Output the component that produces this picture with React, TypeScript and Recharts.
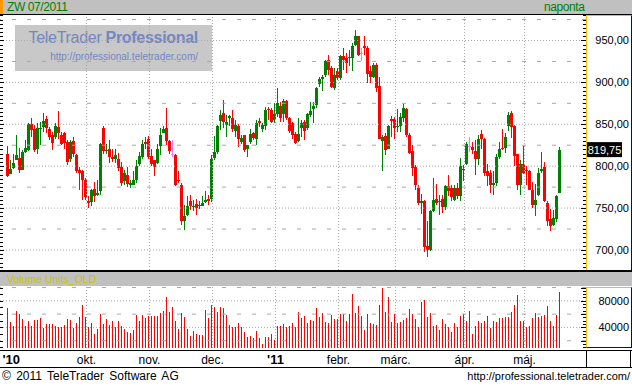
import { Bar, ComposedChart, ReferenceLine, XAxis, YAxis } from 'recharts'

// daily candles, ZW 07/2011
const opens = [
  815, 791, 798, 807, 810, 796, 817, 819, 850, 844, 821, 844, 847, 856, 844, 837, 835, 847, 837, 840,
  829, 809, 830, 813, 796, 794, 783, 759, 757, 773, 766, 770, 845, 818, 820, 811, 809, 809, 799, 782,
  790, 778, 778, 783, 803, 811, 829, 832, 812, 807, 804, 824, 839, 845, 830, 814, 813, 783, 778, 734,
  742, 758, 752, 755, 752, 753, 757, 761, 761, 810, 817, 854, 864, 849, 858, 857, 842, 848, 829, 837,
  820, 829, 840, 832, 854, 844, 848, 868, 867, 855, 862, 872, 862, 878, 857, 851, 838, 830, 846, 853,
  846, 861, 868, 873, 898, 904, 909, 927, 917, 893, 914, 905, 931, 929, 930, 929, 945, 955, 935, 943,
  941, 913, 907, 921, 896, 830, 836, 821, 856, 856, 847, 848, 858, 868, 837, 818, 799, 774, 756, 759,
  705, 700, 746, 761, 757, 761, 751, 776, 774, 760, 774, 764, 797, 803, 824, 823, 818, 809, 838, 833,
  794, 792, 778, 780, 811, 822, 822, 848, 864, 848, 815, 778, 803, 795, 794, 771, 754, 766, 794, 799,
  756, 737, 730, 737, 768,
]
const highs = [
  824, 807, 815, 837, 822, 819, 831, 851, 858, 849, 852, 853, 863, 860, 847, 841, 851, 866, 841, 841,
  831, 831, 835, 815, 799, 796, 786, 764, 773, 781, 784, 828, 848, 827, 831, 821, 821, 816, 805, 796,
  799, 783, 794, 807, 817, 831, 835, 836, 820, 807, 827, 845, 848, 869, 831, 831, 814, 794, 780, 754,
  764, 766, 760, 761, 758, 764, 770, 766, 813, 836, 849, 867, 879, 861, 861, 867, 855, 850, 837, 837,
  825, 844, 841, 855, 857, 852, 871, 871, 869, 875, 893, 876, 880, 879, 859, 853, 841, 858, 855, 855,
  864, 877, 877, 895, 907, 909, 927, 933, 919, 917, 917, 933, 941, 935, 939, 947, 962, 955, 941, 955,
  943, 919, 923, 923, 907, 837, 839, 849, 860, 859, 868, 863, 874, 869, 839, 825, 801, 778, 767, 760,
  734, 748, 786, 779, 766, 766, 778, 790, 778, 778, 780, 810, 801, 829, 835, 829, 831, 837, 843, 834,
  803, 795, 794, 815, 829, 844, 839, 865, 866, 849, 815, 807, 824, 800, 796, 781, 779, 798, 817, 805,
  758, 749, 748, 766, 823,
]
const lows = [
  787, 791, 797, 807, 792, 795, 816, 818, 835, 817, 815, 825, 841, 839, 831, 819, 833, 833, 825, 821,
  801, 805, 811, 792, 772, 760, 760, 750, 752, 757, 764, 766, 815, 815, 804, 805, 804, 794, 776, 778,
  775, 774, 778, 780, 800, 809, 821, 809, 800, 788, 803, 813, 839, 825, 815, 811, 776, 780, 730, 724,
  741, 748, 747, 742, 749, 752, 756, 754, 757, 807, 815, 843, 846, 835, 848, 841, 835, 823, 827, 817,
  811, 827, 831, 825, 847, 841, 843, 855, 851, 851, 859, 853, 853, 855, 839, 833, 826, 829, 835, 831,
  843, 859, 851, 870, 895, 890, 907, 909, 893, 891, 903, 903, 915, 911, 919, 913, 943, 931, 925, 933,
  899, 899, 905, 888, 833, 794, 813, 820, 835, 833, 841, 841, 853, 835, 815, 788, 771, 754, 743, 698,
  692, 699, 745, 754, 742, 744, 748, 764, 758, 758, 761, 759, 782, 801, 817, 815, 789, 801, 821, 788,
  776, 768, 766, 776, 809, 819, 816, 842, 834, 800, 772, 766, 791, 778, 771, 750, 740, 764, 792, 757,
  729, 723, 729, 733, 768,
]
const closes = [
  788, 797, 804, 813, 795, 817, 822, 850, 843, 819, 846, 846, 854, 845, 835, 828, 848, 839, 827, 828,
  805, 829, 815, 794, 792, 783, 763, 756, 772, 764, 768, 827, 818, 819, 811, 808, 813, 798, 780, 792,
  779, 780, 783, 800, 812, 827, 826, 811, 803, 799, 821, 837, 844, 830, 818, 814, 778, 782, 734, 740,
  753, 752, 753, 750, 754, 756, 760, 759, 808, 817, 848, 861, 853, 853, 860, 844, 849, 833, 834, 819,
  825, 838, 834, 851, 852, 849, 867, 867, 853, 862, 875, 858, 878, 857, 842, 837, 828, 838, 852, 842,
  862, 866, 872, 893, 904, 907, 925, 915, 895, 909, 905, 931, 927, 923, 929, 943, 955, 933, 935, 941,
  910, 907, 921, 893, 833, 835, 819, 848, 854, 845, 848, 859, 869, 837, 816, 798, 778, 756, 758, 704,
  700, 747, 760, 756, 759, 751, 776, 770, 763, 774, 764, 800, 796, 827, 824, 819, 809, 833, 832, 792,
  788, 777, 780, 811, 821, 821, 835, 861, 847, 812, 778, 802, 792, 794, 772, 754, 760, 792, 797, 759,
  734, 729, 738, 765, 819.75,
]
const volumes = [
  69000, 47500, 42600, 64000, 60000, 52600, 42000, 50000, 42000, 51000,
  51000, 54000, 39000, 45000, 45000, 45000, 42000, 41000, 41000, 44000,
  52600, 51500, 39000, 46500, 56000, 73500, 56000, 40000, 46500, 30000,
  37400, 60000, 45000, 52600, 44000, 49000, 41000, 49000, 41500, 37400,
  32500, 31000, 36000, 58500, 50000, 58500, 53500, 56500, 56500, 56500,
  57500, 61000, 65000, 86000, 63500, 70000, 50000, 37400, 61000, 55000,
  37400, 27500, 35000, 30000, 28500, 29000, 66000, 54000, 73500, 70000,
  62500, 70000, 69000, 58500, 43500, 41000, 40000, 46000, 40000, 33500,
  25000, 26500, 24000, 34000, 24000, 15000, 25000, 26000, 30000, 21000,
  42600, 41500, 45000, 41000, 42600, 46000, 41000, 62500, 53500, 57500,
  46000, 51000, 49000, 69000, 55000, 61000, 47500, 46000, 58500, 52600,
  52600, 60000, 60000, 50000, 60000, 90000, 61000, 72500, 57500, 36000,
  60000, 46000, 45000, 43500, 74000, 99000, 62500, 86000, 47500, 60000,
  46000, 47500, 51000, 54000, 67500, 60000, 52600, 40000, 77600, 81000,
  56000, 61000, 42600, 43500, 36000, 52600, 45000, 41000, 33500, 46000,
  40000, 56500, 60000, 50000, 64000, 30000, 42000, 49000, 46000, 50000,
  56500, 39000, 49000, 47500, 54000, 53500, 55000, 56000, 62500, 74000,
  88600, 49000, 49000, 41000, 41500, 54000, 61000, 55000, 57500, 58500,
  72000, 50000, 42000, 59000, 92600,
]

const monthTicks = [1.4, 26.5, 47.5, 68.5, 89.5, 110.5, 129.5, 152.5, 172.5]
const monthLabels = ["'10", 'okt.', 'nov.', 'dec.', "'11", 'febr.', 'márc.', 'ápr.', 'máj.']
const priceLabels = [700, 750, 800, 850, 900, 950]
const priceHalfLines = [725, 775, 825, 875, 925, 975]
const volumeLabels = [40000, 80000]
const volumeHalfLines = [20000, 60000, 100000]

const data = opens.map((o, i) => ({ i, o, h: highs[i], l: lows[i], c: closes[i], v: volumes[i] }))
const lastClose = closes[closes.length - 1]

const W = 632
const PLOT_R = 586
const X_DOMAIN: [number, number] = [-2.333, 193]
const RED = '#ff0000'
const GREEN = '#008000'
const PINK = '#ff77ff'
const FONT = '"Liberation Sans", Arial, sans-serif'
const DOT = '1 2'
const DASH = '4 11'
const GRID = '#a8a8a8'

const priceTicks: number[] = []
for (let p = 680; p <= 980; p += 5) priceTicks.push(p)
const volumeTicks: number[] = []
for (let v = 10000; v <= 100000; v += 5000) volumeTicks.push(v)

const fmtPrice = (v: number) => v.toFixed(2).replace('.', ',')

function Candle(props: any) {
  const { x, y, width, height, payload } = props
  const top = Math.min(y, y + height)
  const h = Math.abs(height)
  const k = payload.h > payload.l ? h / (payload.h - payload.l) : 0
  const yo = top + (payload.h - payload.o) * k
  const yc = top + (payload.h - payload.c) * k
  const color = payload.c > payload.o ? GREEN : payload.c < payload.o ? RED : PINK
  const cx = Math.round(x + width / 2)
  return (
    <g shapeRendering="crispEdges">
      <rect x={cx} y={top} width={1} height={Math.max(h, 1)} fill={color} />
      <rect x={cx - 1} y={Math.min(yo, yc)} width={3} height={Math.max(Math.abs(yc - yo), 1)} fill={color} />
    </g>
  )
}

function VolBar(props: any) {
  const { x, y, width, height } = props
  const cx = Math.round(x + width / 2)
  return <rect x={cx} y={y} width={1} height={height} fill={RED} shapeRendering="crispEdges" />
}

function PriceTick(props: any) {
  const { y, payload } = props
  const v = payload.value
  const major = v % 50 === 0
  const yy = Math.round(y) + 0.5
  return (
    <g>
      <line x1={0} x2={major ? 4 : 3} y1={yy} y2={yy} stroke="#000" />
      <line x1={PLOT_R - (major ? 5 : 3)} x2={PLOT_R} y1={yy} y2={yy} stroke="#000" />
      {major && (
        <text x={629} y={y + 4} textAnchor="end" fontSize={11} fontFamily={FONT} fill="#000">
          {fmtPrice(v)}
        </text>
      )}
    </g>
  )
}

function VolumeTick(props: any) {
  const { y, payload } = props
  const v = payload.value
  const yy = Math.round(y) + 0.5
  return (
    <g>
      {v % 10000 === 0 && <line x1={0} x2={3} y1={yy} y2={yy} stroke="#000" />}
      <line x1={PLOT_R - (v % 20000 === 0 ? 5 : 3)} x2={PLOT_R} y1={yy} y2={yy} stroke="#000" />
      {volumeLabels.includes(v) && (
        <text x={629} y={y + 4} textAnchor="end" fontSize={11} fontFamily={FONT} fill="#000">
          {v}
        </text>
      )}
    </g>
  )
}

function MonthTick(props: any) {
  const { x, payload } = props
  const label = monthLabels[monthTicks.indexOf(payload.value)]
  const year = label.startsWith("'")
  return (
    <text x={x} y={77} textAnchor="middle" fontSize={year ? 13 : 12} fontWeight={year ? 'bold' : 'normal'} fontFamily={FONT} fill="#000">
      {label}
    </text>
  )
}

function LastTag(props: any) {
  const vb = props.viewBox
  const x = vb.x + vb.width + 1
  return (
    <g>
      <rect x={x} y={vb.y - 7.5} width={35} height={15} fill="#000" />
      <text x={x + 17.5} y={vb.y + 4} textAnchor="middle" fontSize={11} fontFamily={FONT} fill="#fff">
        {fmtPrice(lastClose)}
      </text>
    </g>
  )
}

const box = (s: React.CSSProperties): React.CSSProperties => ({ position: 'absolute', ...s })

export default function App() {
  return (
    <div style={box({ left: 0, top: 0, width: W, height: 386, background: '#fff', fontFamily: FONT, overflow: 'hidden' })}>
      {/* title bar */}
      <div style={box({ left: 0, top: 0, width: W, height: 14, background: '#c0c0c0', borderBottom: '1px solid #000' })} />
      <div style={box({ left: 0, top: 0, width: 3, height: 14, background: '#ff9900' })} />
      <div style={box({ left: 7, top: 1, fontSize: 12, letterSpacing: -0.4, color: GREEN, lineHeight: '13px' })}>ZW 07/2011</div>
      <div style={box({ left: 544, top: 1, fontSize: 12, letterSpacing: -0.4, color: GREEN, lineHeight: '13px' })}>naponta</div>

      {/* watermark */}
      <div style={box({ left: 15, top: 25, width: 197, height: 46, background: '#c8c8c8' })}>
        <div style={box({ right: 14, top: 4, fontSize: 16, letterSpacing: -0.3, color: '#7386c4', whiteSpace: 'nowrap' })}>
          TeleTrader <b>Professional</b>
        </div>
        <div style={box({ right: 14, top: 26, fontSize: 10, color: '#7386c4', whiteSpace: 'nowrap' })}>
          http://professional.teletrader.com/
        </div>
      </div>

      {/* price axis panel */}
      <div style={box({ left: 586, top: 15, width: 44, height: 254, borderLeft: '1px solid #f0c000', borderTop: '1px solid #f0c000', borderRight: '1px solid #0000c0', borderBottom: '1px solid #0000c0', boxSizing: 'content-box' })} />

      <div style={box({ left: 0, top: 15 })}>
        <ComposedChart width={W} height={255} data={data} margin={{ top: 0, right: 0, bottom: 0, left: 0 }}>
          <XAxis type="number" dataKey="i" domain={X_DOMAIN} hide allowDataOverflow />
          <YAxis
            orientation="right"
            width={46}
            domain={[676.1, 980.4]}
            allowDataOverflow
            ticks={priceTicks}
            interval={0}
            axisLine={false}
            tickLine={false}
            tick={<PriceTick />}
          />
          {priceHalfLines.map((p) => (
            <ReferenceLine key={'h' + p} y={p} stroke={GRID} strokeDasharray={DASH} />
          ))}
          {priceLabels.map((p) => (
            <ReferenceLine key={'p' + p} y={p} stroke={GRID} strokeDasharray={DOT} />
          ))}
          {monthTicks.slice(1).map((m) => (
            <ReferenceLine key={'m' + m} x={m} stroke={GRID} strokeDasharray={DOT} />
          ))}
          <Bar dataKey={(d: any) => [d.l, d.h]} barSize={3} shape={Candle} isAnimationActive={false} />
          <ReferenceLine y={lastClose} stroke="none" label={(p: any) => <LastTag viewBox={p.viewBox} />} />
        </ComposedChart>
      </div>

      {/* volume header */}
      <div style={box({ left: 0, top: 270, width: W, height: 2, background: '#000' })} />
      <div style={box({ left: 0, top: 272, width: W, height: 14, background: '#c0c0c0' })} />
      <div style={box({ left: 7, top: 273, fontSize: 10.5, color: '#c8c400', lineHeight: '13px' })}>Volume Units_OLD</div>

      {/* volume axis panel */}
      <div style={box({ left: 586, top: 287, width: 44, height: 59, borderLeft: '1px solid #f0c000', borderTop: '1px solid #f0c000', borderRight: '1px solid #0000c0', borderBottom: '1px solid #0000c0', boxSizing: 'content-box' })} />

      <div style={box({ left: 0, top: 287 })}>
        <ComposedChart width={W} height={81} data={data} margin={{ top: 0, right: 0, bottom: 0, left: 0 }}>
          <XAxis
            type="number"
            dataKey="i"
            domain={X_DOMAIN}
            allowDataOverflow
            ticks={monthTicks}
            interval={0}
            height={20}
            axisLine={false}
            tickLine={false}
            tick={<MonthTick />}
          />
          <YAxis
            orientation="right"
            width={46}
            domain={[9000, 100800]}
            allowDataOverflow
            ticks={volumeTicks}
            interval={0}
            axisLine={false}
            tickLine={false}
            tick={<VolumeTick />}
          />
          {volumeHalfLines.map((v) => (
            <ReferenceLine key={'vh' + v} y={v} stroke={GRID} strokeDasharray={DASH} />
          ))}
          {volumeLabels.map((v) => (
            <ReferenceLine key={'vl' + v} y={v} stroke={GRID} strokeDasharray={DOT} />
          ))}
          {monthTicks.slice(1).map((m) => (
            <ReferenceLine key={'vm' + m} x={m} stroke={GRID} strokeDasharray={DOT} />
          ))}
          <Bar dataKey="v" barSize={1} shape={VolBar} isAnimationActive={false} />
        </ComposedChart>
      </div>

      {/* date row frame */}
      <div style={box({ left: 0, top: 350, width: W, height: 1, background: '#000' })} />
      <div style={box({ left: 0, top: 367, width: W, height: 1, background: '#000' })} />
      <div style={box({ left: 586, top: 350, width: 1, height: 18, background: '#000' })} />
      <div style={box({ left: 630, top: 350, width: 1, height: 18, background: '#000' })} />

      {/* footer */}
      <div style={box({ left: 2, top: 369, fontSize: 12, wordSpacing: 2, color: '#000', whiteSpace: 'nowrap' })}>© 2011 TeleTrader Software AG</div>
      <div style={box({ right: 2, top: 370, fontSize: 11, color: '#000', whiteSpace: 'nowrap' })}>http://professional.teletrader.com/</div>
    </div>
  )
}
